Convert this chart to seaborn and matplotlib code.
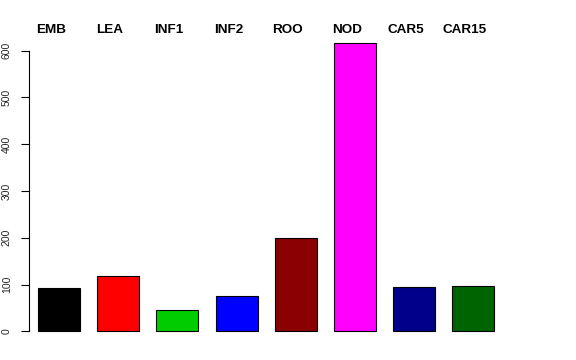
import matplotlib
matplotlib.use("Agg")
import matplotlib.pyplot as plt
import matplotlib.transforms as mtransforms
import seaborn as sns
import pandas as pd

categories = ["EMB", "LEA", "INF1", "INF2", "ROO", "NOD", "CAR5", "CAR15"]
values = [93, 118, 45, 75, 200, 617, 95, 97]
colors = ["#000000", "#FF0000", "#00CD00", "#0000FF", "#8B0000", "#FF00FF", "#00008B", "#006400"]
yticks = [0, 100, 200, 300, 400, 500, 600]

sns.set_theme(style="white")
plt.rcParams["font.family"] = ["Liberation Sans", "DejaVu Sans"]

df = pd.DataFrame({"cat": categories, "val": values})

fig = plt.figure(figsize=(5.76, 3.6), dpi=100)
ax = fig.add_axes([29 / 576, 17 / 360, 474 / 576, 312 / 360])

sns.barplot(data=df, x="cat", y="val", hue="cat", palette=colors, order=categories,
            hue_order=categories, width=0.71, saturation=1, edgecolor="black",
            linewidth=0.8, legend=False, ax=ax)

ax.set_xlim(-0.507, 7.5)
ax.set_ylim(-24.7, 641.7)
ax.set_xlabel("")
ax.set_ylabel("")
ax.set_xticks([])
ax.set_yticks(yticks)
ax.set_yticklabels([str(t) for t in yticks], rotation=90, va="center", fontsize=7.5)
ax.tick_params(axis="y", length=5.8, width=0.8, color="black", pad=6.5, left=True)
for s in ["top", "right", "bottom"]:
    ax.spines[s].set_visible(False)
ax.spines["left"].set_bounds(0, 600)
ax.spines["left"].set_color("black")
ax.spines["left"].set_linewidth(0.8)
ax.patch.set_alpha(0)

trans = mtransforms.blended_transform_factory(ax.transData, fig.transFigure)
for i, c in enumerate(categories):
    ax.text(i - 0.14, (360 - 30) / 360, c, transform=trans, ha="center", va="center",
            fontsize=9.7, fontweight="bold", color="black")

fig.savefig("out.png", dpi=100, facecolor="white")
